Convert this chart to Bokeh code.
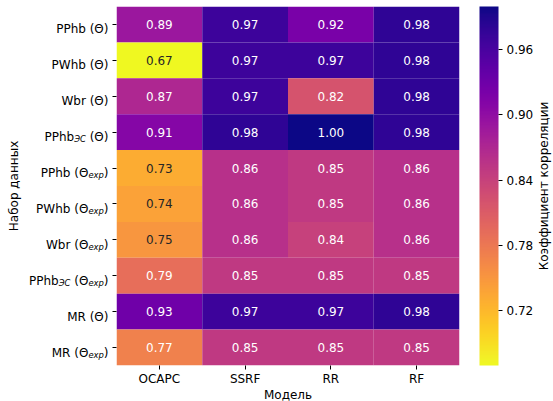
import math
from bokeh.plotting import figure
from bokeh.models import (ColumnDataSource, LinearColorMapper, ColorBar, FixedTicker,
                          Range1d, PrintfTickFormatter)
from bokeh.core.properties import value
from bokeh.palettes import Plasma256
from bokeh.embed import file_html
from bokeh.resources import INLINE

# ---------------- data ----------------
models = ["OCAPC", "SSRF", "RR", "RF"]
row_names = ["PPhb", "PWhb", "Wbr", "PPhb", "PPhb", "PWhb", "Wbr", "PPhb", "MR", "MR"]
row_subs = ["", "", "", "ЭС", "", "", "", "ЭС", "", ""]
row_theta_subs = ["", "", "", "", "exp", "exp", "exp", "exp", "", "exp"]

ocapc = [0.89, 0.67, 0.87, 0.91, 0.73, 0.74, 0.75, 0.79, 0.93, 0.77]
ssrf = [0.97, 0.97, 0.97, 0.98, 0.86, 0.86, 0.86, 0.85, 0.97, 0.85]
rr = [0.92, 0.97, 0.82, 1.00, 0.85, 0.85, 0.84, 0.85, 0.97, 0.85]
rf = [0.98, 0.98, 0.98, 0.98, 0.86, 0.86, 0.86, 0.85, 0.98, 0.85]
cbar_ticks = [0.72, 0.78, 0.84, 0.90, 0.96]
vmin, vmax = 0.669, 1.0

FONT = "DejaVu Sans"
FS = 12
SUB_FS = 8.4

palette = list(Plasma256[::-1])
mapper = LinearColorMapper(palette=palette, low=vmin, high=vmax)

n_rows = len(row_names)
cols = [ocapc, ssrf, rr, rf]

def pal_color(v):
    i = int((v - vmin) / (vmax - vmin) * len(palette))
    i = max(0, min(len(palette) - 1, i))
    return palette[i]

def lum(hexc):
    r, g, b = (int(hexc[k:k + 2], 16) / 255 for k in (1, 3, 5))
    def lin(c):
        return c / 12.92 if c <= 0.03928 else ((c + 0.055) / 1.055) ** 2.4
    return 0.2126 * lin(r) + 0.7152 * lin(g) + 0.0722 * lin(b)

xs, ys, vals, txt, tcol = [], [], [], [], []
for ci, col in enumerate(cols):
    for ri, v in enumerate(col):
        xs.append(ci + 0.5)
        ys.append(n_rows - ri - 0.5)
        vals.append(v)
        txt.append(f"{v:.2f}")
        tcol.append("#262626" if lum(pal_color(v)) > 0.408 else "#ffffff")

src = ColumnDataSource(dict(x=xs, y=ys, v=vals, t=txt, tc=tcol))

p = figure(width=553, height=401, output_backend="svg", toolbar_location=None,
           x_range=Range1d(0, 4), y_range=Range1d(0, n_rows),
           min_border_left=116, min_border_right=94, min_border_top=6, min_border_bottom=36)
p.outline_line_color = None
p.grid.visible = False
p.background_fill_color = "white"
p.border_fill_color = "white"

p.rect(x="x", y="y", width=1, height=1, source=src,
       fill_color={"field": "v", "transform": mapper}, line_color=None)
p.text(x="x", y="y", text="t", source=src, text_color="tc",
       text_align="center", text_baseline="middle",
       text_font=value(FONT), text_font_size=f"{FS}px")

# axes
p.xaxis.ticker = FixedTicker(ticks=[i + 0.5 for i in range(len(models))])
p.xaxis.major_label_overrides = {i + 0.5: m for i, m in enumerate(models)}
p.xaxis.axis_line_color = None
p.xaxis.minor_tick_line_color = None
p.xaxis.major_tick_out = 4
p.xaxis.major_tick_in = 0
p.xaxis.major_label_standoff = 2
p.xaxis.major_label_text_font = FONT
p.xaxis.major_label_text_font_size = f"{FS}px"
p.xaxis.major_label_text_color = "black"

p.yaxis.ticker = FixedTicker(ticks=[i + 0.5 for i in range(n_rows)])
p.yaxis.major_label_overrides = {i + 0.5: "" for i in range(n_rows)}
p.yaxis.axis_line_color = None
p.yaxis.minor_tick_line_color = None
p.yaxis.major_tick_out = 4
p.yaxis.major_tick_in = 0

# ---------------- y tick labels with subscripts ----------------
W = {' ': 651, '(': 799, ')': 799, 'P': 1235, 'W': 2025, 'M': 1767, 'R': 1423,
     'h': 1298, 'b': 1300, 'r': 842, 'e': 1260, 'x': 1212, 'p': 1300,
     'Θ': 1612, 'Э': 1430, 'С': 1430}

def width(s, fs):
    return sum(W.get(c, 1300) for c in s) / 2048 * fs

RIGHT = -8      # px offset from frame left edge
BASE_DY = 5     # baseline offset from row centre (px, positive = down)
SUB_DY = 7

main = dict(x=[], y=[], t=[], xo=[], yo=[])
sub = dict(x=[], y=[], t=[], xo=[], yo=[])
for ri in range(n_rows):
    y = n_rows - ri - 0.5
    pieces = [(row_names[ri], False, 0.0)]
    if row_subs[ri]:
        pieces.append((row_subs[ri], True, 0.0))
    pieces.append(("(Θ", False, width(" ", FS)))   # gap before the bracket
    if row_theta_subs[ri]:
        pieces.append((row_theta_subs[ri], True, 0.0))
    pieces.append((")", False, 0.0))
    off = RIGHT
    for text, is_sub, gap in reversed(pieces):
        d = sub if is_sub else main
        d["x"].append(0)
        d["y"].append(y)
        d["t"].append(text)
        d["xo"].append(off)
        d["yo"].append(SUB_DY if is_sub else BASE_DY)
        off -= width(text, SUB_FS if is_sub else FS) + gap

p.text(x="x", y="y", text="t", x_offset="xo", y_offset="yo",
       source=ColumnDataSource(main), text_align="right", text_baseline="alphabetic",
       text_font=value(FONT), text_font_size=f"{FS}px", text_color="black",
       level="overlay")
p.text(x="x", y="y", text="t", x_offset="xo", y_offset="yo",
       source=ColumnDataSource(sub), text_align="right", text_baseline="alphabetic",
       text_font=value(FONT), text_font_size=f"{SUB_FS}px", text_font_style="italic",
       text_color="black", level="overlay")

# axis titles
p.text(x=[-1.2], y=[n_rows / 2], text=["Набор данных"], angle=math.pi / 2,
       text_font=value(FONT), text_font_size=f"{FS}px", text_align="center",
       text_baseline="middle", text_color="black", level="overlay")
p.text(x=[len(models) / 2], y=[-0.81], text=["Модель"],
       text_font=value(FONT), text_font_size=f"{FS}px", text_align="center",
       text_baseline="middle", text_color="black", level="overlay")
p.text(x=[4.98], y=[n_rows / 2], text=["Коэффициент корреляции"], angle=math.pi / 2,
       text_font=value(FONT), text_font_size=f"{FS}px", text_align="center",
       text_baseline="middle", text_color="black", level="overlay")

# ---------------- colour bar ----------------
cb = ColorBar(color_mapper=mapper, ticker=FixedTicker(ticks=cbar_ticks),
              formatter=PrintfTickFormatter(format="%.2f"),
              width=19, padding=0, margin=0, location=(20, 0),
              bar_line_color=None, border_line_color=None, background_fill_color=None,
              major_tick_line_color="black", major_tick_out=4, major_tick_in=0,
              minor_tick_line_color=None, label_standoff=4,
              major_label_text_font=FONT, major_label_text_font_size=f"{FS}px",
              major_label_text_color="black")
p.add_layout(cb, "right")

open("out.html", "w").write(file_html(p, INLINE))
